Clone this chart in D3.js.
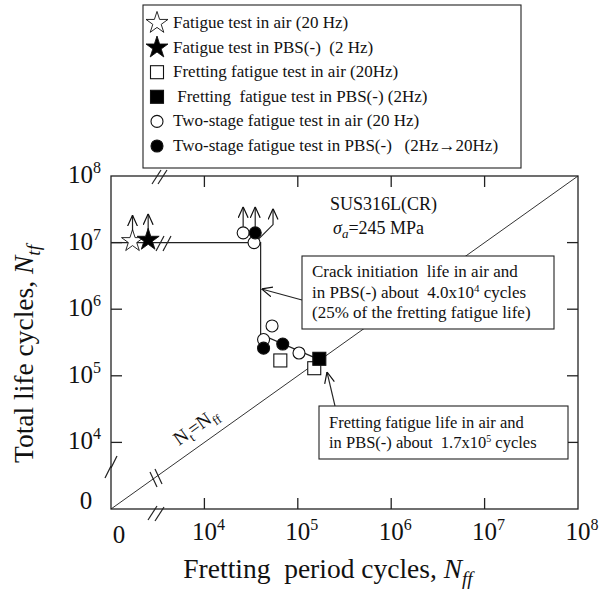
<!DOCTYPE html>
<html lang="en">
<head>
<meta charset="UTF-8" />
<title>Fretting period vs total life</title>
<script src="https://cdn.jsdelivr.net/npm/d3@7"></script>
<style>
  body { margin: 0; background: #fff; }
  svg text { font-family: "Liberation Serif", "Times New Roman", serif; fill: #111; white-space: pre; }
</style>
</head>
<body>
<div id="chart"></div>
<script>
// values (cycles)
const fatigueAir = [[1.7e3, 1.05e7]];
const fatiguePBS = [[2.5e3, 1.1e7]];
const frettingAir = [[6.5e4, 1.7e5], [1.5e5, 1.3e5]];
const frettingPBS = [[1.7e5, 1.8e5]];
const twoStageAir = [[2.6e4, 1.4e7], [3.4e4, 1.0e7], [5.3e4, 5.6e5], [4.3e4, 3.5e5], [1.03e5, 2.2e5]];
const twoStagePBS = [[3.5e4, 1.4e7], [4.3e4, 2.6e5], [6.9e4, 3.0e5]];
const runouts = [[1.7e3, 1.05e7], [2.5e3, 1.1e7], [2.6e4, 1.4e7], [3.5e4, 1.4e7]];
const stepLine = [[1e3, 1e7], [4.0e4, 1e7], [4.0e4, 4.2e5], [1.7e5, 1.75e5]];
const tickValues = [1e4, 1e5, 1e6, 1e7];
const labelValues = [1e4, 1e5, 1e6, 1e7, 1e8];
const labelExps = ["4", "5", "6", "7", "8"];
const legendLabels = [
  "Fatigue test in air (20 Hz)",
  "Fatigue test in PBS(-)  (2 Hz)",
  "Fretting fatigue test in air (20Hz)",
  " Fretting  fatigue test in PBS(-) (2Hz)",
  "Two-stage fatigue test in air (20 Hz)",
  "Two-stage fatigue test in PBS(-)   (2Hz\u219220Hz)"
];
const legendKinds = ["starOpen", "starFill", "sqOpen", "sqFill", "cirOpen", "cirFill"];

const W = 603, H = 590;
const m = { left: 111, right: 578, top: 176, bottom: 509 };

const x = d3.scaleLog().domain([1e3, 1e8]).range([m.left, m.right]);
const y = d3.scaleLog().domain([1e3, 1e8]).range([m.bottom, m.top]);

const svg = d3.select("#chart").append("svg")
  .attr("width", W).attr("height", H);

const defs = svg.append("defs");
defs.append("marker")
  .attr("id", "openArrow")
  .attr("viewBox", "0 0 10 10")
  .attr("refX", 10).attr("refY", 5)
  .attr("markerWidth", 11).attr("markerHeight", 11)
  .attr("markerUnits", "userSpaceOnUse")
  .attr("orient", "auto")
  .append("path")
  .attr("d", "M0,0.5L10,5L0,9.5")
  .attr("fill", "none").attr("stroke", "#111").attr("stroke-width", 1.1);

// diagonal Nt = Nff
svg.append("line")
  .attr("x1", x(1e3)).attr("y1", y(1e3))
  .attr("x2", x(1e8)).attr("y2", y(1e8))
  .attr("stroke", "#333").attr("stroke-width", 1);

// frame
svg.append("rect")
  .attr("x", m.left).attr("y", m.top)
  .attr("width", m.right - m.left).attr("height", m.bottom - m.top)
  .attr("fill", "none").attr("stroke", "#222").attr("stroke-width", 1.3);

// ticks inside on all sides
const tk = 11;
const ticks = svg.append("g").attr("stroke", "#222").attr("stroke-width", 1.3);
tickValues.forEach(v => {
  ticks.append("line").attr("x1", x(v)).attr("x2", x(v)).attr("y1", m.bottom).attr("y2", m.bottom - tk);
  ticks.append("line").attr("x1", x(v)).attr("x2", x(v)).attr("y1", m.top).attr("y2", m.top + tk);
  ticks.append("line").attr("y1", y(v)).attr("y2", y(v)).attr("x1", m.left).attr("x2", m.left + tk);
  ticks.append("line").attr("y1", y(v)).attr("y2", y(v)).attr("x1", m.right).attr("x2", m.right - tk);
});

// tick labels
function powLabel(g, tx, ty, exp) {
  const t = g.append("text").attr("x", tx).attr("y", ty).style("font-size", "25px");
  t.append("tspan").text("10");
  t.append("tspan").attr("dy", -10).style("font-size", "16px").text(exp);
  return t;
}
const labels = svg.append("g");
labelValues.forEach((v, i) => powLabel(labels, x(v) - 12.5, 540, labelExps[i]));
labels.append("text").attr("x", 119).attr("y", 543)
  .attr("text-anchor", "middle").style("font-size", "25px").text("0");
labelValues.forEach((v, i) => powLabel(labels, 68, y(v) + 7, labelExps[i]));
labels.append("text").attr("x", 86).attr("y", y(1e3))
  .attr("text-anchor", "middle").style("font-size", "25px").text("0");

// axis titles
const xt = svg.append("text").attr("x", 328).attr("y", 578)
  .attr("text-anchor", "middle").style("font-size", "27.5px");
xt.append("tspan").text("Fretting  period cycles, ");
xt.append("tspan").style("font-style", "italic").text("N");
xt.append("tspan").attr("dy", 7).style("font-style", "italic").style("font-size", "19px").text("ff");

const yt = svg.append("text").attr("transform", "translate(33,354) rotate(-90)")
  .attr("text-anchor", "middle").style("font-size", "27.5px");
yt.append("tspan").text("Total life cycles, ");
yt.append("tspan").style("font-style", "italic").text("N");
yt.append("tspan").attr("dy", 7).style("font-style", "italic").style("font-size", "19px").text("tf");

// break marks
const brk = svg.append("g").attr("stroke", "#222").attr("stroke-width", 1.2);
function slash(x1, y1, x2, y2) {
  brk.append("line").attr("x1", x1).attr("y1", y1).attr("x2", x2).attr("y2", y2);
}
slash(148, 520, 157, 506); slash(155, 521, 164, 507);
slash(152, 184, 161, 170); slash(158, 184, 167, 170);
slash(156, 251, 164, 236); slash(163, 251, 171, 236);
slash(105, 478, 111, 466); slash(111, 468, 117, 456);
slash(150, 472, 157, 487); slash(155, 469, 162, 484);

// step line
svg.append("path")
  .attr("d", d3.line().x(d => x(d[0])).y(d => y(d[1]))(stepLine))
  .attr("fill", "none").attr("stroke", "#222").attr("stroke-width", 1.2);

// runout arrows
const arr = svg.append("g").attr("stroke", "#222").attr("stroke-width", 1.2).attr("fill", "none");
runouts.forEach(d => {
  arr.append("line")
    .attr("x1", x(d[0])).attr("y1", y(d[1]) - 6)
    .attr("x2", x(d[0])).attr("y2", y(d[1]) - 26)
    .attr("marker-end", "url(#openArrow)");
});
const bent = [3.4e4, 1.0e7];
arr.append("path")
  .attr("d", `M${x(bent[0]) + 3},${y(bent[1]) - 2}L${x(bent[0]) + 19},${y(bent[1]) - 18}L${x(bent[0]) + 19},${y(bent[1]) - 34}`)
  .attr("marker-end", "url(#openArrow)");

// markers
function drawMark(g, kind, px, py) {
  const fill = kind.endsWith("Fill") ? "#000" : "#fff";
  if (kind.startsWith("star")) {
    g.append("path").attr("transform", `translate(${px},${py})`)
      .attr("d", d3.symbol(d3.symbolStar, 150)())
      .attr("fill", fill).attr("stroke", "#111").attr("stroke-width", 0.9);
  } else if (kind.startsWith("sq")) {
    g.append("rect").attr("x", px - 6.5).attr("y", py - 6.5)
      .attr("width", 13).attr("height", 13)
      .attr("fill", fill).attr("stroke", "#111").attr("stroke-width", 1.1);
  } else {
    g.append("circle").attr("cx", px).attr("cy", py).attr("r", 6)
      .attr("fill", fill).attr("stroke", "#111").attr("stroke-width", 1.1);
  }
}
const pts = svg.append("g");
const seriesList = [
  [twoStageAir, "cirOpen"], [twoStagePBS, "cirFill"],
  [fatigueAir, "starOpen"], [fatiguePBS, "starFill"],
  [frettingAir, "sqOpen"], [frettingPBS, "sqFill"]
];
seriesList.forEach(([data, kind]) => data.forEach(d => drawMark(pts, kind, x(d[0]), y(d[1]))));

// annotation texts
const sus = svg.append("g");
sus.append("text").attr("x", 330).attr("y", 210).style("font-size", "18px").text("SUS316L(CR)");
const sg = sus.append("text").attr("x", 333).attr("y", 234).style("font-size", "18px");
sg.append("tspan").style("font-style", "italic").text("\u03c3");
sg.append("tspan").attr("dy", 4).style("font-style", "italic").style("font-size", "13px").text("a");
sg.append("tspan").attr("dy", -4).text("=245 MPa");

// diagonal label
const dl = svg.append("text")
  .attr("transform", "translate(179,446) rotate(-35.5)")
  .style("font-size", "19px");
dl.append("tspan").text("N");
dl.append("tspan").attr("dy", 5).style("font-size", "13px").text("t");
dl.append("tspan").attr("dy", -5).text("=N");
dl.append("tspan").attr("dy", 5).style("font-size", "13px").text("ff");

// box 1
const b1 = svg.append("g");
b1.append("line").attr("x1", 302).attr("y1", 300).attr("x2", x(4.0e4) + 1).attr("y2", 289)
  .attr("stroke", "#222").attr("stroke-width", 1.1).attr("marker-end", "url(#openArrow)");
b1.append("rect").attr("x", 302).attr("y", 256).attr("width", 252).attr("height", 73)
  .attr("fill", "#fff").attr("stroke", "#222").attr("stroke-width", 1.1);
const b1t = b1.append("text").style("font-size", "17px");
b1t.append("tspan").attr("x", 312).attr("y", 277).text("Crack initiation  life in air and");
const l2 = b1t.append("tspan").attr("x", 312).attr("y", 298);
l2.append("tspan").text("in PBS(-) about  4.0x10");
l2.append("tspan").attr("dy", -6).style("font-size", "11px").text("4");
l2.append("tspan").attr("dy", 6).text(" cycles");
b1t.append("tspan").attr("x", 312).attr("y", 318).text("(25% of the fretting fatigue life)");

// box 2
const b2 = svg.append("g");
b2.append("line").attr("x1", 335).attr("y1", 406).attr("x2", 327).attr("y2", 372)
  .attr("stroke", "#222").attr("stroke-width", 1.1).attr("marker-end", "url(#openArrow)");
b2.append("rect").attr("x", 319).attr("y", 406).attr("width", 249).attr("height", 53)
  .attr("fill", "#fff").attr("stroke", "#222").attr("stroke-width", 1.1);
const b2t = b2.append("text").style("font-size", "16.5px");
b2t.append("tspan").attr("x", 329).attr("y", 428).text("Fretting fatigue life in air and");
const m2 = b2t.append("tspan").attr("x", 329).attr("y", 448);
m2.append("tspan").text("in PBS(-) about  1.7x10");
m2.append("tspan").attr("dy", -6).style("font-size", "10px").text("5");
m2.append("tspan").attr("dy", 6).text(" cycles");

// legend
const lg = svg.append("g");
lg.append("rect").attr("x", 143).attr("y", 5).attr("width", 378).attr("height", 163)
  .attr("fill", "#fff").attr("stroke", "#222").attr("stroke-width", 1.1);
legendLabels.forEach((lab, i) => {
  const ly = 23 + i * 24.6;
  drawMark(lg, legendKinds[i], 157, ly);
  lg.append("text").attr("x", 173).attr("y", ly + 5).style("font-size", "17px").text(lab);
});
</script>
</body>
</html>
